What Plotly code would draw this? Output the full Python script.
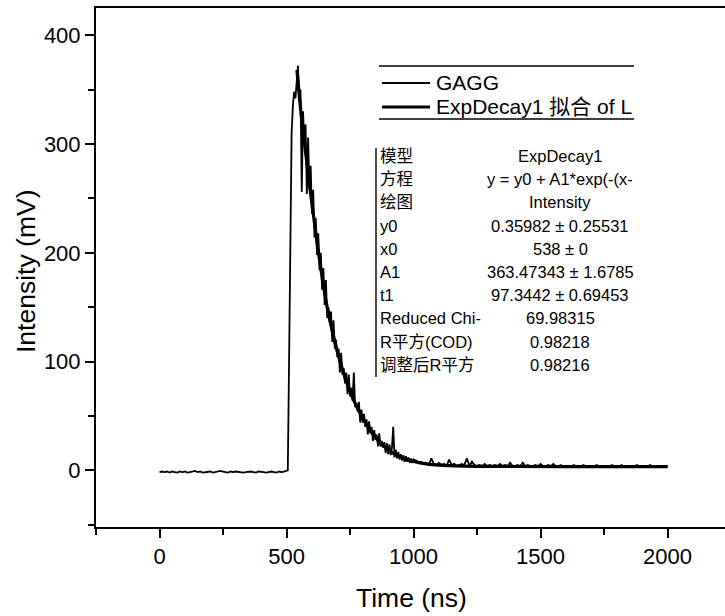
import plotly.graph_objs as go

# GAGG signal (mV); three sampling segments
base_times = list(range(0, 500, 10))
base_values = [
    -1.5, -1, -1.5, -1, -2, -1, -1.5, -2, -1, -1.5,
    -1, -2, -1.5, -1, -0.5, -1.5, -1, -2, -1.5, -1,
    -1, -2, -1.5, -1, -0.5, -1, -1.5, -2, -1, -1.5,
    -1, -1.5, -2, -2, -1.5, -1, -1, -1.5, -2, -1,
    -1, -1.5, -2, -1.5, -1, -1.5, -2, -1, -1.5, -1,
]
pulse_times = list(range(500, 1005, 5))
pulse_values = [
    0, 0, 100, 230, 310, 335, 348, 342, 362, 372,
    340, 350, 256, 330, 300, 318, 254, 306, 258, 280,
    236, 258, 214, 232, 198, 218, 184, 200, 166, 186,
    152, 175, 140, 150, 136, 146, 118, 138, 112, 120,
    104, 112, 90, 108, 88, 94, 80, 90, 70, 88,
    68, 76, 64, 90, 58, 62, 54, 63, 44, 56,
    44, 52, 40, 47, 33, 45, 34, 40, 27, 37,
    28, 33, 22, 34, 22, 27, 21, 26, 16, 25,
    15, 24, 14, 21, 40, 12, 19, 11, 17, 10,
    15, 9, 14, 8, 13, 8, 12, 7, 11, 7,
    10,
]
tail_times = list(range(1010, 2010, 10))
tail_values = [
    9, 7, 8, 6, 7, 5, 11, 6, 5, 7,
    5, 6, 4, 10, 5, 6, 4, 5, 6, 5,
    11, 4, 8, 5, 4, 5, 4, 6, 4, 5,
    4, 5, 4, 6, 4, 5, 4, 7, 4, 4,
    5, 4, 7, 4, 5, 4, 4, 5, 4, 6,
    4, 4, 5, 4, 6, 4, 4, 5, 3, 4,
    4, 3, 5, 4, 3, 4, 5, 3, 4, 4,
    3, 5, 4, 3, 4, 4, 3, 5, 4, 3,
    4, 5, 3, 4, 4, 3, 4, 5, 3, 4,
    4, 3, 5, 4, 3, 4, 4, 3, 4, 4,
]

# ExpDecay1 fit curve
fit_times = [541, 560, 580, 600, 620, 640, 660, 680, 700, 720, 740, 760, 780,
             800, 825, 850, 875, 900, 925, 950, 975, 1000, 1050, 1100, 1200,
             1400, 1700, 2000]
fit_values = [368, 322, 283, 245, 210, 178, 150, 128, 109, 93, 79, 67, 57,
              48, 38.5, 30.5, 24, 19, 15, 12, 10, 8.3, 6, 4.8, 4,
              3.6, 3.5, 3.5]

legend_names = ["GAGG", "ExpDecay1 拟合 of L"]
table_labels = ["模型", "方程", "绘图", "y0", "x0", "A1", "t1",
                "Reduced Chi-", "R平方(COD)", "调整后R平方"]
table_values = ["ExpDecay1", "y = y0 + A1*exp(-(x-", "Intensity",
                "0.35982 ± 0.25531", "538 ± 0", "363.47343 ± 1.6785",
                "97.3442 ± 0.69453", "69.98315", "0.98218", "0.98216"]

FONT = "Liberation Sans, Arial, Noto Sans CJK SC, sans-serif"

times = base_times + pulse_times + tail_times
values = base_values + pulse_values + tail_values

data_trace = go.Scatter(x=times, y=values, mode="lines",
                        line=dict(color="black", width=1.8), name=legend_names[0])
fit_trace = go.Scatter(x=fit_times, y=fit_values, mode="lines", line_shape="spline",
                       line=dict(color="black", width=3.2), name=legend_names[1])

# pixel -> paper helpers (plot area 96..725 x 8..527)
def px(x):
    return (x - 96) / 629.0

def py(y):
    return (527 - y) / 519.0

shapes = []
annotations = []

# legend box: only top and bottom rules, as in Origin
for yy in (66, 119):
    shapes.append(dict(type="line", xref="paper", yref="paper",
                       x0=px(379), x1=px(634), y0=py(yy), y1=py(yy),
                       line=dict(color="black", width=1.6)))
for name, yy, w in zip(legend_names, (83, 107), (1.8, 3.2)):
    shapes.append(dict(type="line", xref="paper", yref="paper",
                       x0=px(382), x1=px(430), y0=py(yy), y1=py(yy),
                       line=dict(color="black", width=w)))
    annotations.append(dict(xref="paper", yref="paper", x=px(434), y=py(yy),
                            text=name, showarrow=False, xanchor="left",
                            yanchor="middle", font=dict(size=21, color="black", family=FONT)))

# fit results table
shapes.append(dict(type="line", xref="paper", yref="paper",
                   x0=px(376), x1=px(376), y0=py(148), y1=py(377),
                   line=dict(color="black", width=1.4)))
for i, (lab, val) in enumerate(zip(table_labels, table_values)):
    yy = 156 + 23.2 * i
    annotations.append(dict(xref="paper", yref="paper", x=px(378), y=py(yy),
                            text=lab, showarrow=False, xanchor="left", yanchor="middle",
                            font=dict(size=16.5, color="black", family=FONT)))
    annotations.append(dict(xref="paper", yref="paper", x=px(560), y=py(yy),
                            text=val, showarrow=False, xanchor="center", yanchor="middle",
                            font=dict(size=16.5, color="black", family=FONT)))

# axis titles
annotations.append(dict(xref="paper", yref="paper", x=px(412), y=py(598),
                        text="Time (ns)", showarrow=False, xanchor="center", yanchor="middle",
                        font=dict(size=26.5, color="black", family=FONT)))
annotations.append(dict(xref="paper", yref="paper", x=px(26), y=py(272),
                        text="Intensity (mV)", showarrow=False, textangle=-90,
                        xanchor="center", yanchor="middle",
                        font=dict(size=26.5, color="black", family=FONT)))

axis_common = dict(showline=True, linecolor="black", linewidth=2, ticks="outside",
                   ticklen=9, tickwidth=2, tickcolor="black", showgrid=False,
                   zeroline=False, automargin=False,
                   tickfont=dict(size=22, color="black", family=FONT))

layout = go.Layout(
    width=725, height=616,
    margin=dict(l=96, r=0, t=8, b=89),
    paper_bgcolor="white", plot_bgcolor="white",
    showlegend=False,
    xaxis=dict(range=[-250, 2226], tick0=0, dtick=500, mirror=True,
               minor=dict(ticks="outside", ticklen=6, tickwidth=2, tickcolor="black", dtick=250),
               **axis_common),
    yaxis=dict(range=[-52, 425], tick0=0, dtick=100,
               minor=dict(ticks="outside", ticklen=6, tickwidth=2, tickcolor="black", dtick=50),
               **axis_common),
    shapes=shapes,
    annotations=annotations,
)

fig = go.Figure(data=[data_trace, fit_trace], layout=layout)
# page body has an 8px default margin; drop it so the figure sits at the window corner
fig.write_html("out.html", config={"displayModeBar": False},
               post_script="document.body.style.margin='0';")
